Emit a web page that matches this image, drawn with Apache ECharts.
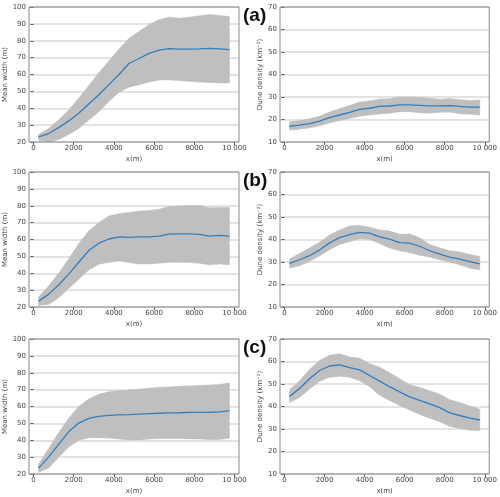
<!DOCTYPE html>
<html>
<head>
<meta charset="utf-8">
<script src="https://cdn.jsdelivr.net/npm/echarts@6/dist/echarts.min.js"></script>
<style>
html,body{margin:0;padding:0;background:#fff;}
#c{width:500px;height:497px;}
</style>
</head>
<body>
<div id="c"></div>
<script>
// Data
var xValues = [250,750,1250,1750,2250,2750,3250,3750,4250,4750,5250,5750,6250,6750,7250,7750,8250,8750,9250,9750];
var xTicks = [0,2000,4000,6000,8000,10000];
var panelLabels = ['(a)','(b)','(c)'];

var widthA_mean  = [23,25,28.5,32.5,37,42.5,48,54,60,66.5,69.5,72.5,74.5,75.3,75,75,75.2,75.5,75.2,74.8];
var widthA_upper = [24.5,28,33,39,46,53.5,61,68,75,81.5,85.5,89.5,92.5,94,93.3,94,94.8,95.5,95,94.3];
var widthA_lower = [21,20,21.5,24.5,28,33,38,44,49.5,52.5,54,55.5,56.8,56.8,56.5,56,55.5,55.3,55,55];

var densA_mean  = [17,17.5,18.2,19.3,20.8,22,23.2,24.5,25,25.8,26,26.5,26.5,26.3,26.1,26.1,26.2,25.8,25.5,25.5];
var densA_upper = [19,19.5,20.3,21.5,23.3,24.8,26.2,27.8,28.2,29.1,29.2,30,30,29.8,29.5,29,29.3,28.8,28.5,28.7];
var densA_lower = [15.3,15.7,16.3,17.2,18.5,19.6,20.5,21.5,22,22.5,22.8,23.5,23.5,23,22.8,23.2,23.3,22.6,22.4,22];

var widthB_mean  = [23.5,27.5,33,39.5,46.5,53.5,57.8,60.3,61.5,61.3,61.5,61.5,62,63.2,63.3,63.3,63,62,62.5,62];
var widthB_upper = [26,32.5,40,48.5,57.5,65,70,74,75.3,76,76.8,77.2,78,79.5,79.8,80,80.2,78.8,79,79];
var widthB_lower = [21,21.5,25.5,31,36.5,42,45.3,46.5,47.3,46.3,45.5,45.5,46,46.5,46.5,46.3,46,45,45.5,45];

var densB_mean  = [29.4,31,32.8,35.3,38.5,40.8,42.2,43.2,42.8,41.2,40.2,38.6,38.4,37,35,33.5,32.2,31.3,30.2,29.2];
var densB_upper = [31.3,33.8,36.2,38.8,42,44.2,46,46.2,45.5,44.2,43.8,42.3,42.5,40.8,37.8,36.3,35,34.5,33.3,32.5];
var densB_lower = [27.3,28.3,30.3,32.7,35.5,37.8,39,40.5,40,38.2,36.2,35,34.2,33,32.2,31,30,28.8,27.3,26.5];

var widthC_mean  = [23.5,30,37.5,45,50.2,53,54.2,54.8,55,55.2,55.5,55.8,56,56.2,56.3,56.5,56.5,56.6,56.8,57.5];
var widthC_upper = [26,35,44.5,53,60,64.5,67.2,68.7,69.3,69.8,70.2,70.8,71.3,71.6,72,72.2,72.5,72.7,73,74];
var widthC_lower = [21,23.5,30,36,40,41.5,41.5,41.3,40.8,40.2,40.2,40.8,41,41,41,40.8,40.8,40.5,40.5,41.3];

var densC_mean  = [44.5,48,52.3,56,58,58.5,57.3,56.3,53.8,51.3,48.8,46.5,44.3,42.7,41.2,39.5,37.2,36,34.8,34];
var densC_upper = [47.5,51.5,56.5,60.5,62.8,63.5,62,61.5,59,57.5,55,52.3,49.7,48.5,47,45.5,43,41.8,40.2,38.8];
var densC_lower = [41.8,44,47.8,51.2,53,53.5,53,51.5,48.8,45,42.7,40.5,38.5,36.5,34.8,33.2,31.2,30.2,29.5,29.3];

var panels = [
  {mean: widthA_mean, upper: widthA_upper, lower: widthA_lower, kind: 'w'},
  {mean: densA_mean,  upper: densA_upper,  lower: densA_lower,  kind: 'd'},
  {mean: widthB_mean, upper: widthB_upper, lower: widthB_lower, kind: 'w'},
  {mean: densB_mean,  upper: densB_upper,  lower: densB_lower,  kind: 'd'},
  {mean: widthC_mean, upper: widthC_upper, lower: widthC_lower, kind: 'w'},
  {mean: densC_mean,  upper: densC_upper,  lower: densC_lower,  kind: 'd'}
];

var rowTops = [7, 172, 339];
var rowH = 135;
var colLeft = [29, 280];
var colW = [210, 211];

var grids = [], xAxes = [], yAxes = [], series = [], graphics = [];
var font = 'DejaVu Sans';
var txtColor = '#444';

function bandRenderer(params, api) {
  if (params.dataIndex !== 0) return;
  var n = params.dataInsideLength !== undefined ? null : null;
  var upperPts = [], lowerPts = [];
  var cnt = xValues.length;
  for (var k = 0; k < cnt; k++) {
    var x = api.value(0, k), lo = api.value(1, k), hi = api.value(2, k);
    upperPts.push(api.coord([x, hi]));
    lowerPts.push(api.coord([x, lo]));
  }
  var pts = upperPts.concat(lowerPts.reverse());
  var cs = params.coordSys;
  return {
    type: 'group',
    children: [{
      type: 'polygon',
      shape: {points: pts},
      style: {fill: '#bfbfbf', stroke: '#b8b8b8', lineWidth: 0.5}
    }],
    clipPath: {type: 'rect', shape: {x: cs.x, y: cs.y, width: cs.width, height: cs.height}}
  };
}

panels.forEach(function(p, i){
  var row = Math.floor(i/2), col = i%2;
  grids.push({left: colLeft[col], top: rowTops[row], width: colW[col], height: rowH,
    show: true, borderColor: '#8a8a8a', borderWidth: 1, backgroundColor: 'transparent', containLabel: false, z: 10});
  xAxes.push({type: 'value', gridIndex: i, min: -225, max: 10225,
    name: 'x(m)', nameLocation: 'middle', nameGap: 14,
    nameTextStyle: {fontSize: 7, color: txtColor, fontFamily: font},
    axisLine: {show: false},
    axisTick: {show: true, customValues: xTicks, length: 3, lineStyle: {color: '#555'}},
    axisLabel: {show: true, customValues: xTicks, fontSize: 7, color: txtColor, fontFamily: font, margin: 3,
      formatter: function(v){ return v >= 10000 ? '10\u00a0000' : String(v); }},
    splitLine: {show: false}
  });
  var isW = p.kind === 'w';
  yAxes.push({type: 'value', gridIndex: i, min: isW ? 20 : 10, max: isW ? 100 : 70, interval: 10,
    name: isW ? 'Mean width (m)' : 'Dune density (km\u207B\u00B2)', nameLocation: 'middle', nameGap: isW ? 18 : 16,
    nameTextStyle: {fontSize: 7, color: txtColor, fontFamily: font},
    axisLine: {show: false},
    axisTick: {show: true, length: 3, lineStyle: {color: '#555'}},
    axisLabel: {fontSize: 7, color: txtColor, fontFamily: font, margin: 3},
    splitLine: {show: true, lineStyle: {color: '#dadada', width: 1.5}}
  });
  var bandData = xValues.map(function(x, k){ return [x, p.lower[k], p.upper[k]]; });
  var meanData = xValues.map(function(x, k){ return [x, p.mean[k]]; });
  series.push({type: 'custom', xAxisIndex: i, yAxisIndex: i, data: bandData,
    encode: {x: 0, y: [1, 2]}, renderItem: bandRenderer, silent: true, z: 2, clip: true});
  series.push({type: 'line', xAxisIndex: i, yAxisIndex: i, data: meanData,
    symbol: 'none', silent: true, lineStyle: {color: '#2f7fc0', width: 1.3}, clip: true, z: 5});
});

panelLabels.forEach(function(t, r){
  graphics.push({type: 'text', left: 243, top: rowTops[r] - 1,
    style: {text: t, font: 'bold 19px "Liberation Sans", Arial, sans-serif', fill: '#111'}});
});

var chart = echarts.init(document.getElementById('c'), null, {renderer: 'canvas'});
chart.setOption({
  animation: false,
  backgroundColor: '#fff',
  grid: grids,
  xAxis: xAxes,
  yAxis: yAxes,
  series: series,
  graphic: graphics
});
</script>
</body>
</html>
